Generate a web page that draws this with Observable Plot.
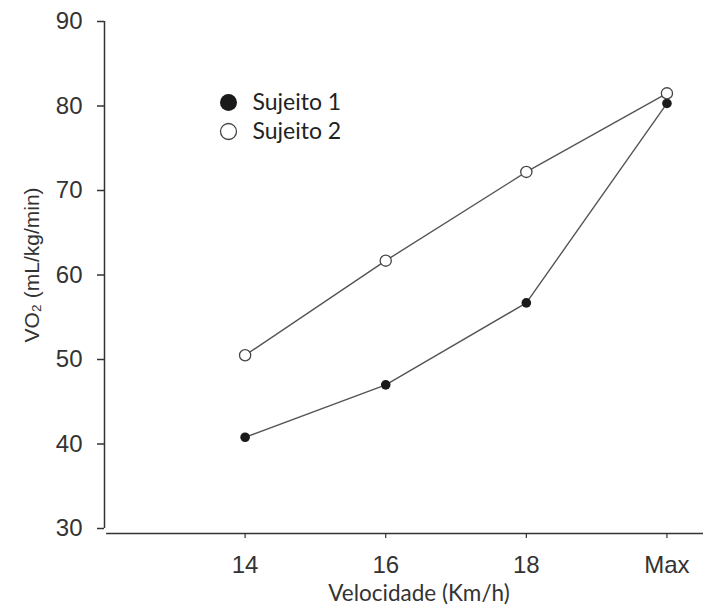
<!DOCTYPE html>
<html>
<head>
<meta charset="utf-8">
<script src="https://cdn.jsdelivr.net/npm/d3@7"></script>
<script src="https://cdn.jsdelivr.net/npm/@observablehq/plot@0.6"></script>
<style>
  html, body { margin: 0; padding: 0; background: #fff; }
</style>
</head>
<body>
<div id="chart"></div>
<script>
const categories = ["14", "16", "18", "Max"];
const sujeito1 = [40.8, 47.0, 56.7, 80.3];
const sujeito2 = [50.5, 61.7, 72.2, 81.5];
const yTicks = [30, 40, 50, 60, 70, 80, 90];
const seriesNames = ["Sujeito 1", "Sujeito 2"];
const xTitle = "Velocidade (Km/h)";
const yTitle = "VO\u2082 (mL/kg/min)";

const s1 = categories.map((c, i) => ({i, v: sujeito1[i]}));
const s2 = categories.map((c, i) => ({i, v: sujeito2[i]}));

const axisColor = "#333";
const lineColor = "#555";

const plot = Plot.plot({
  width: 708,
  height: 605,
  marginLeft: 104,
  marginRight: 5,
  marginTop: 21,
  marginBottom: 77,
  style: {fontFamily: "'Liberation Sans', Arial, sans-serif", color: axisColor, background: "#fff"},
  x: {domain: [-1, 3.26], axis: null},
  y: {domain: [30, 90], axis: null},
  marks: [
    // y axis
    Plot.ruleX([-1], {y1: 30, y2: 90, stroke: axisColor, strokeWidth: 1.5}),
    Plot.axisY({ticks: yTicks, tickSize: 7, tickPadding: 15, fontSize: 24, label: null, stroke: axisColor, strokeWidth: 1.5}),
    // x axis
    Plot.ruleY([30], {x1: -0.985, x2: 3.26, dy: 5, stroke: axisColor, strokeWidth: 1.5}),
    Plot.axisX({ticks: categories.map((c, i) => i), tickFormat: i => categories[i], tickSize: 5, tickPadding: 17, dy: 5, fontSize: 24, label: null, stroke: axisColor, strokeWidth: 1.2}),
    // axis titles
    Plot.text([yTitle], {frameAnchor: "left", textAnchor: "middle", lineAnchor: "middle", dx: -72, dy: -10, rotate: -90, fontSize: 21, fill: axisColor}),
    Plot.text([xTitle], {frameAnchor: "bottom", textAnchor: "middle", lineAnchor: "middle", dx: 15, dy: 65, fontSize: 22.5, fontFamily: "Lato, sans-serif", fill: axisColor}),
    // series
    Plot.line(s1, {x: "i", y: "v", stroke: lineColor, strokeWidth: 1.4}),
    Plot.line(s2, {x: "i", y: "v", stroke: lineColor, strokeWidth: 1.4}),
    Plot.dot(s1, {x: "i", y: "v", r: 4.8, fill: "#1a1a1a", stroke: "none"}),
    Plot.dot(s2, {x: "i", y: "v", r: 5.6, fill: "#fff", stroke: "#444", strokeWidth: 1.3}),
    // legend
    Plot.dot([seriesNames[0]], {frameAnchor: "top-left", dx: 124, dy: 81, r: 8.5, fill: "#1a1a1a", stroke: "none"}),
    Plot.dot([seriesNames[1]], {frameAnchor: "top-left", dx: 124, dy: 110, r: 8, fill: "#fff", stroke: "#444", strokeWidth: 1.3}),
    Plot.text([seriesNames[0]], {frameAnchor: "top-left", dx: 148, dy: 81, text: d => d, textAnchor: "start", lineAnchor: "middle", fontSize: 23, fontFamily: "Lato, sans-serif", fill: "#222"}),
    Plot.text([seriesNames[1]], {frameAnchor: "top-left", dx: 148, dy: 110, text: d => d, textAnchor: "start", lineAnchor: "middle", fontSize: 23, fontFamily: "Lato, sans-serif", fill: "#222"})
  ]
});
document.getElementById("chart").appendChild(plot);
</script>
</body>
</html>
